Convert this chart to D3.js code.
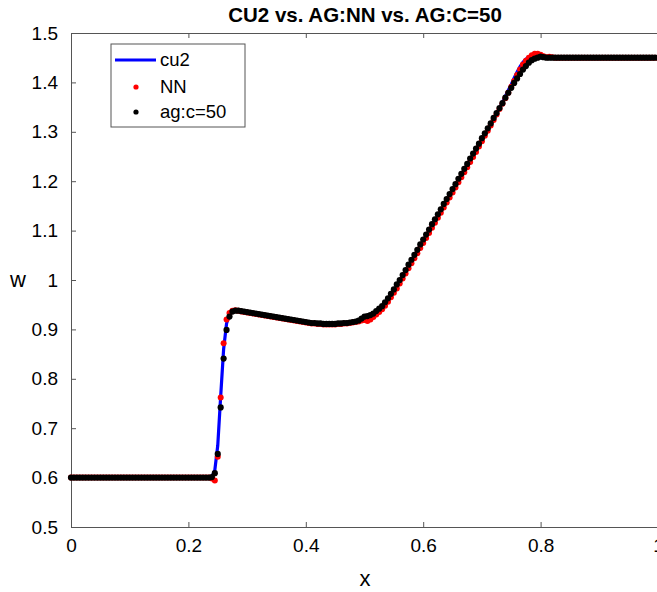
<!DOCTYPE html>
<html lang="en">
<head>
    <meta charset="UTF-8">
    <title>CU2 vs. AG:NN vs. AG:C=50</title>
    <script src="https://d3js.org/d3.v7.min.js"></script>
    <style>
        body { margin: 0; background: #fff; }
        text { font-family: "Liberation Sans", Arial, Helvetica, sans-serif; fill: #000; }
    </style>
</head>
<body>
    <svg id="chart"></svg>
    <script>
        // grid points (x) and the three solutions
        var xs = [
            0,0.005,0.01,0.015,0.02,0.025,0.03,0.035,0.04,0.045,
            0.05,0.055,0.06,0.065,0.07,0.075,0.08,0.085,0.09,0.095,
            0.1,0.105,0.11,0.115,0.12,0.125,0.13,0.135,0.14,0.145,
            0.15,0.155,0.16,0.165,0.17,0.175,0.18,0.185,0.19,0.195,
            0.2,0.205,0.21,0.215,0.22,0.225,0.23,0.235,0.24,0.245,
            0.25,0.255,0.26,0.265,0.27,0.275,0.28,0.285,0.29,0.295,
            0.3,0.305,0.31,0.315,0.32,0.325,0.33,0.335,0.34,0.345,
            0.35,0.355,0.36,0.365,0.37,0.375,0.38,0.385,0.39,0.395,
            0.4,0.405,0.41,0.415,0.42,0.425,0.43,0.435,0.44,0.445,
            0.45,0.455,0.46,0.465,0.47,0.475,0.48,0.485,0.49,0.495,
            0.5,0.505,0.51,0.515,0.52,0.525,0.53,0.535,0.54,0.545,
            0.55,0.555,0.56,0.565,0.57,0.575,0.58,0.585,0.59,0.595,
            0.6,0.605,0.61,0.615,0.62,0.625,0.63,0.635,0.64,0.645,
            0.65,0.655,0.66,0.665,0.67,0.675,0.68,0.685,0.69,0.695,
            0.7,0.705,0.71,0.715,0.72,0.725,0.73,0.735,0.74,0.745,
            0.75,0.755,0.76,0.765,0.77,0.775,0.78,0.785,0.79,0.795,
            0.8,0.805,0.81,0.815,0.82,0.825,0.83,0.835,0.84,0.845,
            0.85,0.855,0.86,0.865,0.87,0.875,0.88,0.885,0.89,0.895,
            0.9,0.905,0.91,0.915,0.92,0.925,0.93,0.935,0.94,0.945,
            0.95,0.955,0.96,0.965,0.97,0.975,0.98,0.985,0.99,0.995,
            1
        ];

        var cu2 = [
            0.6,0.6,0.6,0.6,0.6,0.6,0.6,0.6,0.6,0.6,
            0.6,0.6,0.6,0.6,0.6,0.6,0.6,0.6,0.6,0.6,
            0.6,0.6,0.6,0.6,0.6,0.6,0.6,0.6,0.6,0.6,
            0.6,0.6,0.6,0.6,0.6,0.6,0.6,0.6,0.6,0.6,
            0.6,0.6,0.6,0.6,0.6,0.6,0.6,0.6,0.601,0.615,
            0.665,0.765,0.860,0.912,0.930,0.936,0.938,0.938,0.937,0.936,
            0.935,0.934,0.933,0.932,0.931,0.930,0.929,0.928,0.927,0.926,
            0.925,0.924,0.923,0.922,0.921,0.920,0.919,0.918,0.917,0.916,
            0.915,0.914,0.913,0.913,0.912,0.912,0.911,0.911,0.911,0.911,
            0.911,0.912,0.912,0.913,0.913,0.914,0.915,0.916,0.918,0.919,
            0.921,0.923,0.926,0.929,0.934,0.940,0.946,0.953,0.961,0.970,
            0.979,0.988,0.998,1.008,1.018,1.029,1.039,1.049,1.059,1.070,
            1.080,1.090,1.100,1.111,1.121,1.131,1.141,1.152,1.162,1.172,
            1.182,1.192,1.203,1.213,1.223,1.233,1.244,1.254,1.264,1.274,
            1.285,1.295,1.305,1.315,1.326,1.337,1.348,1.360,1.372,1.384,
            1.396,1.409,1.421,1.432,1.441,1.447,1.450,1.450,1.450,1.450,
            1.45,1.45,1.45,1.45,1.45,1.45,1.45,1.45,1.45,1.45,
            1.45,1.45,1.45,1.45,1.45,1.45,1.45,1.45,1.45,1.45,
            1.45,1.45,1.45,1.45,1.45,1.45,1.45,1.45,1.45,1.45,
            1.45,1.45,1.45,1.45,1.45,1.45,1.45,1.45,1.45,1.45,
            1.45
        ];

        var nn = [
            0.6,0.6,0.6,0.6,0.6,0.6,0.6,0.6,0.6,0.6,
            0.6,0.6,0.6,0.6,0.6,0.6,0.6,0.6,0.6,0.6,
            0.6,0.6,0.6,0.6,0.6,0.6,0.6,0.6,0.6,0.6,
            0.6,0.6,0.6,0.6,0.6,0.6,0.6,0.6,0.6,0.6,
            0.6,0.6,0.6,0.6,0.6,0.6,0.6,0.6,0.598,0.594,
            0.642,0.762,0.872,0.920,0.933,0.938,0.939,0.938,0.936,0.935,
            0.934,0.933,0.932,0.931,0.930,0.929,0.928,0.927,0.926,0.925,
            0.924,0.923,0.922,0.921,0.920,0.919,0.918,0.917,0.916,0.915,
            0.914,0.913,0.912,0.912,0.911,0.911,0.910,0.910,0.910,0.910,
            0.910,0.911,0.911,0.912,0.912,0.913,0.914,0.915,0.916,0.918,
            0.919,0.917,0.920,0.925,0.930,0.935,0.941,0.948,0.956,0.965,
            0.974,0.983,0.993,1.003,1.013,1.024,1.034,1.044,1.054,1.065,
            1.075,1.085,1.095,1.106,1.116,1.126,1.136,1.147,1.157,1.167,
            1.177,1.187,1.198,1.208,1.218,1.228,1.239,1.249,1.259,1.270,
            1.281,1.292,1.302,1.313,1.324,1.335,1.346,1.357,1.368,1.379,
            1.391,1.403,1.415,1.426,1.436,1.444,1.450,1.455,1.458,1.458,
            1.456,1.453,1.451,1.452,1.451,1.45,1.45,1.45,1.45,1.45,
            1.45,1.45,1.45,1.45,1.45,1.45,1.45,1.45,1.45,1.45,
            1.45,1.45,1.45,1.45,1.45,1.45,1.45,1.45,1.45,1.45,
            1.45,1.45,1.45,1.45,1.45,1.45,1.45,1.45,1.45,1.45,
            1.45
        ];

        var ag50 = [
            0.6,0.6,0.6,0.6,0.6,0.6,0.6,0.6,0.6,0.6,
            0.6,0.6,0.6,0.6,0.6,0.6,0.6,0.6,0.6,0.6,
            0.6,0.6,0.6,0.6,0.6,0.6,0.6,0.6,0.6,0.6,
            0.6,0.6,0.6,0.6,0.6,0.6,0.6,0.6,0.6,0.6,
            0.6,0.6,0.6,0.6,0.6,0.6,0.6,0.6,0.601,0.609,
            0.648,0.742,0.841,0.899,0.926,0.936,0.938,0.938,0.937,0.936,
            0.935,0.934,0.933,0.932,0.931,0.930,0.929,0.928,0.927,0.926,
            0.925,0.924,0.923,0.922,0.921,0.920,0.919,0.918,0.917,0.916,
            0.915,0.914,0.913,0.913,0.912,0.912,0.911,0.911,0.911,0.911,
            0.911,0.912,0.912,0.913,0.913,0.914,0.915,0.916,0.918,0.922,
            0.926,0.927,0.929,0.932,0.937,0.942,0.947,0.955,0.963,0.972,
            0.981,0.991,1.000,1.010,1.020,1.031,1.041,1.051,1.061,1.072,
            1.082,1.092,1.102,1.113,1.123,1.133,1.143,1.154,1.164,1.174,
            1.184,1.194,1.205,1.215,1.225,1.235,1.246,1.256,1.266,1.276,
            1.287,1.297,1.307,1.317,1.328,1.338,1.348,1.358,1.369,1.379,
            1.389,1.399,1.408,1.417,1.426,1.433,1.440,1.445,1.448,1.450,
            1.452,1.451,1.45,1.45,1.45,1.45,1.45,1.45,1.45,1.45,
            1.45,1.45,1.45,1.45,1.45,1.45,1.45,1.45,1.45,1.45,
            1.45,1.45,1.45,1.45,1.45,1.45,1.45,1.45,1.45,1.45,
            1.45,1.45,1.45,1.45,1.45,1.45,1.45,1.45,1.45,1.45,
            1.45
        ];

        var xTicks = [0, 0.2, 0.4, 0.6, 0.8, 1];
        var yTicks = [0.5, 0.6, 0.7, 0.8, 0.9, 1, 1.1, 1.2, 1.3, 1.4, 1.5];
        var legendLabels = ["cu2", "NN", "ag:c=50"];

        var margin = { top: 33, right: -1, bottom: 65, left: 71 },
            width = 657 - margin.left - margin.right,
            height = 592 - margin.top - margin.bottom;

        var svg = d3.select("#chart")
                    .attr("width", 657)
                    .attr("height", 592);

        var g = svg.append("g")
                   .attr("transform", "translate(" + margin.left + "," + margin.top + ")");

        var xScale = d3.scaleLinear().domain([0, 1]).range([0, width]);
        var yScale = d3.scaleLinear().domain([0.5, 1.5]).range([height, 0]);

        var axisColor = "#555";
        var tickFont = "19px";

        // bottom axis (ticks point inward)
        var xAxis = g.append("g")
                     .attr("transform", "translate(0," + height + ")")
                     .call(d3.axisBottom(xScale).tickValues(xTicks).tickSize(-5).tickPadding(12)
                             .tickFormat(function(d) { return d3.format("")(d); }));

        // top axis, ticks only
        var topAxis = g.append("g")
                       .call(d3.axisTop(xScale).tickValues(xTicks).tickSize(-5).tickFormat(""));

        // left axis
        var yAxis = g.append("g")
                     .call(d3.axisLeft(yScale).tickValues(yTicks).tickSize(-5).tickPadding(13)
                             .tickFormat(function(d) { return d3.format("")(d); }));

        [xAxis, topAxis, yAxis].forEach(function(a) {
            a.selectAll("path").attr("stroke", axisColor).attr("stroke-width", 1);
            a.selectAll("line").attr("stroke", axisColor).attr("stroke-width", 1);
            a.selectAll("text")
             .attr("font-size", tickFont)
             .attr("font-family", "'Liberation Sans', Arial, Helvetica, sans-serif")
             .attr("fill", "#262626");
        });

        var line = d3.line()
                     .x(function(d, i) { return xScale(xs[i]); })
                     .y(function(d) { return yScale(d); });

        g.append("path")
         .datum(cu2)
         .attr("fill", "none")
         .attr("stroke", "#0000ff")
         .attr("stroke-width", 3.2)
         .attr("d", line);

        g.append("g")
         .selectAll("circle")
         .data(nn)
         .enter()
         .append("circle")
         .attr("cx", function(d, i) { return xScale(xs[i]); })
         .attr("cy", function(d) { return yScale(d); })
         .attr("r", 3)
         .attr("fill", "#ff0000");

        g.append("g")
         .selectAll("circle")
         .data(ag50)
         .enter()
         .append("circle")
         .attr("cx", function(d, i) { return xScale(xs[i]); })
         .attr("cy", function(d) { return yScale(d); })
         .attr("r", 3.1)
         .attr("fill", "#000");

        // title and axis labels
        svg.append("text")
           .attr("x", 365)
           .attr("y", 22)
           .attr("text-anchor", "middle")
           .attr("font-size", "20.5px")
           .attr("font-weight", "bold")
           .text("CU2 vs. AG:NN vs. AG:C=50");

        svg.append("text")
           .attr("x", 365)
           .attr("y", 586)
           .attr("text-anchor", "middle")
           .attr("font-size", "22px")
           .attr("fill", "#262626")
           .text("x");

        svg.append("text")
           .attr("x", 18)
           .attr("y", 287)
           .attr("text-anchor", "middle")
           .attr("font-size", "22px")
           .attr("fill", "#262626")
           .text("w");

        // legend
        var legend = svg.append("g")
                        .attr("class", "legend")
                        .attr("transform", "translate(111,44)");

        legend.append("rect")
              .attr("x", 0)
              .attr("y", 0)
              .attr("width", 134)
              .attr("height", 83)
              .attr("fill", "#fff")
              .attr("stroke", "#555")
              .attr("stroke-width", 1);

        legend.append("line")
              .attr("x1", 4)
              .attr("x2", 45)
              .attr("y1", 16)
              .attr("y2", 16)
              .attr("stroke", "#0000ff")
              .attr("stroke-width", 3.2);

        legend.append("circle")
              .attr("cx", 25)
              .attr("cy", 43)
              .attr("r", 2.6)
              .attr("fill", "#ff0000");

        legend.append("circle")
              .attr("cx", 25)
              .attr("cy", 68)
              .attr("r", 2.6)
              .attr("fill", "#000");

        legend.selectAll(".lab")
              .data(legendLabels)
              .enter()
              .append("text")
              .attr("class", "lab")
              .attr("x", 49)
              .attr("y", function(d, i) { return [16, 43, 68][i]; })
              .attr("dy", "0.35em")
              .attr("font-size", "18.5px")
              .text(function(d) { return d; });
    </script>
</body>
</html>
